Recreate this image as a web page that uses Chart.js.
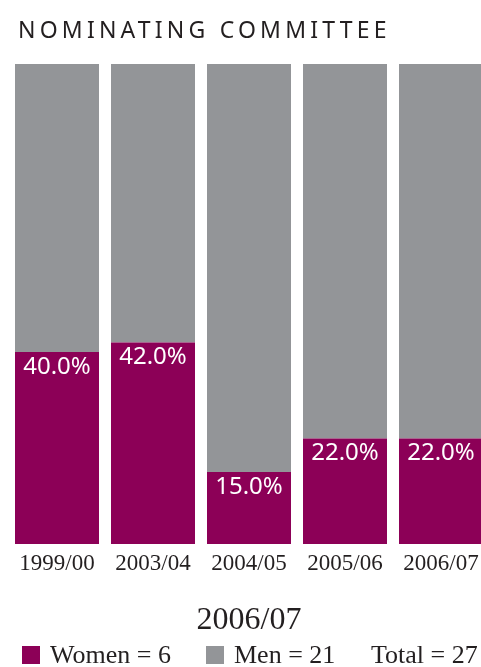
<!DOCTYPE html>
<html>
<head>
<meta charset="utf-8">
<script src="https://cdn.jsdelivr.net/npm/chart.js@4.4.1/dist/chart.umd.min.js"></script>
<style>
  html, body { margin: 0; padding: 0; background: #fff; overflow: hidden; }
  #wrap { position: relative; width: 481px; height: 667px; overflow: hidden; }
  #title {
    position: absolute; left: 18px; top: 14px;
    font: 23px 'Noto Sans', sans-serif; letter-spacing: 4.2px; color: #231f20;
    line-height: 30px; white-space: nowrap;
  }
  #chart-box { position: absolute; left: 0; top: 0; width: 500px; height: 600px; }
  #year {
    position: absolute; left: 9px; width: 480px; top: 598px; text-align: center;
    font: 32px 'Liberation Serif', serif; color: #231f20; line-height: 40px;
  }
  #legend {
    position: absolute; left: 22px; top: 640px; height: 30px;
    font: 26px 'Liberation Serif', serif; color: #231f20; white-space: nowrap;
  }
  #legend span.item { position: absolute; top: 0; line-height: 30px; }
  #legend i { position: absolute; top: 6px; width: 18px; height: 18px; }
</style>
</head>
<body>
<div id="wrap">
  <div id="chart-box"><canvas id="committee-chart"></canvas></div>
  <div id="title">NOMINATING COMMITTEE</div>
  <div id="year"></div>
  <div id="legend"></div>
</div>
<script>
  const years = ['1999/00', '2003/04', '2004/05', '2005/06', '2006/07'];
  const womenPct = [40, 42, 15, 22, 22];
  const menPct = [60, 58, 85, 78, 78];

  const latestYear = '2006/07';
  const latestCounts = [['Women', 6], ['Men', 21], ['Total', 27]];

  const plum = '#8c0057';
  const grey = '#939598';
  const ink = '#231f20';

  document.getElementById('year').textContent = latestYear;

  // legend for the latest year, boxes only for the two series
  const legendEl = document.getElementById('legend');
  const legendX = [0, 184, 349];
  const legendColors = [plum, grey, null];
  latestCounts.forEach(([name, count], i) => {
    if (legendColors[i]) {
      const box = document.createElement('i');
      box.style.left = `${legendX[i]}px`;
      box.style.background = legendColors[i];
      legendEl.appendChild(box);
    }
    const item = document.createElement('span');
    item.className = 'item';
    item.style.left = `${legendX[i] + (legendColors[i] ? 28 : 0)}px`;
    item.textContent = `${name} = ${count}`;
    legendEl.appendChild(item);
  });

  // percentage written at the top of each women bar
  const womenLabels = {
    id: 'womenLabels',
    afterDatasetsDraw(chart) {
      const { ctx } = chart;
      const meta = chart.getDatasetMeta(0);
      ctx.save();
      ctx.fillStyle = '#fff';
      ctx.font = "24px 'Noto Sans', sans-serif";
      ctx.textAlign = 'center';
      ctx.textBaseline = 'alphabetic';
      meta.data.forEach((bar, i) => {
        ctx.fillText(`${womenPct[i].toFixed(1)}%`, bar.x, bar.y + 22);
      });
      ctx.restore();
    },
  };

  new Chart(document.getElementById('committee-chart'), {
    type: 'bar',
    data: {
      labels: years,
      datasets: [
        { label: 'Women', data: womenPct, backgroundColor: plum },
        { label: 'Men', data: menPct, backgroundColor: grey },
      ],
    },
    options: {
      animation: false,
      responsive: true,
      maintainAspectRatio: false,
      layout: { padding: { left: 9, right: 11, top: 64, bottom: 16 } },
      datasets: {
        bar: { barPercentage: 1, categoryPercentage: 0.875 },
      },
      plugins: {
        legend: { display: false },
        tooltip: { enabled: false },
      },
      scales: {
        x: {
          stacked: true,
          grid: { display: false, drawTicks: false },
          border: { display: false },
          afterFit: (scale) => { scale.height = 40; },
          ticks: {
            color: ink,
            padding: 6,
            maxRotation: 0,
            autoSkip: false,
            font: { family: "'Liberation Serif', serif", size: 23 },
          },
        },
        y: {
          stacked: true,
          display: false,
          min: 0,
          max: 100,
        },
      },
    },
    plugins: [womenLabels],
  });
</script>
</body>
</html>
